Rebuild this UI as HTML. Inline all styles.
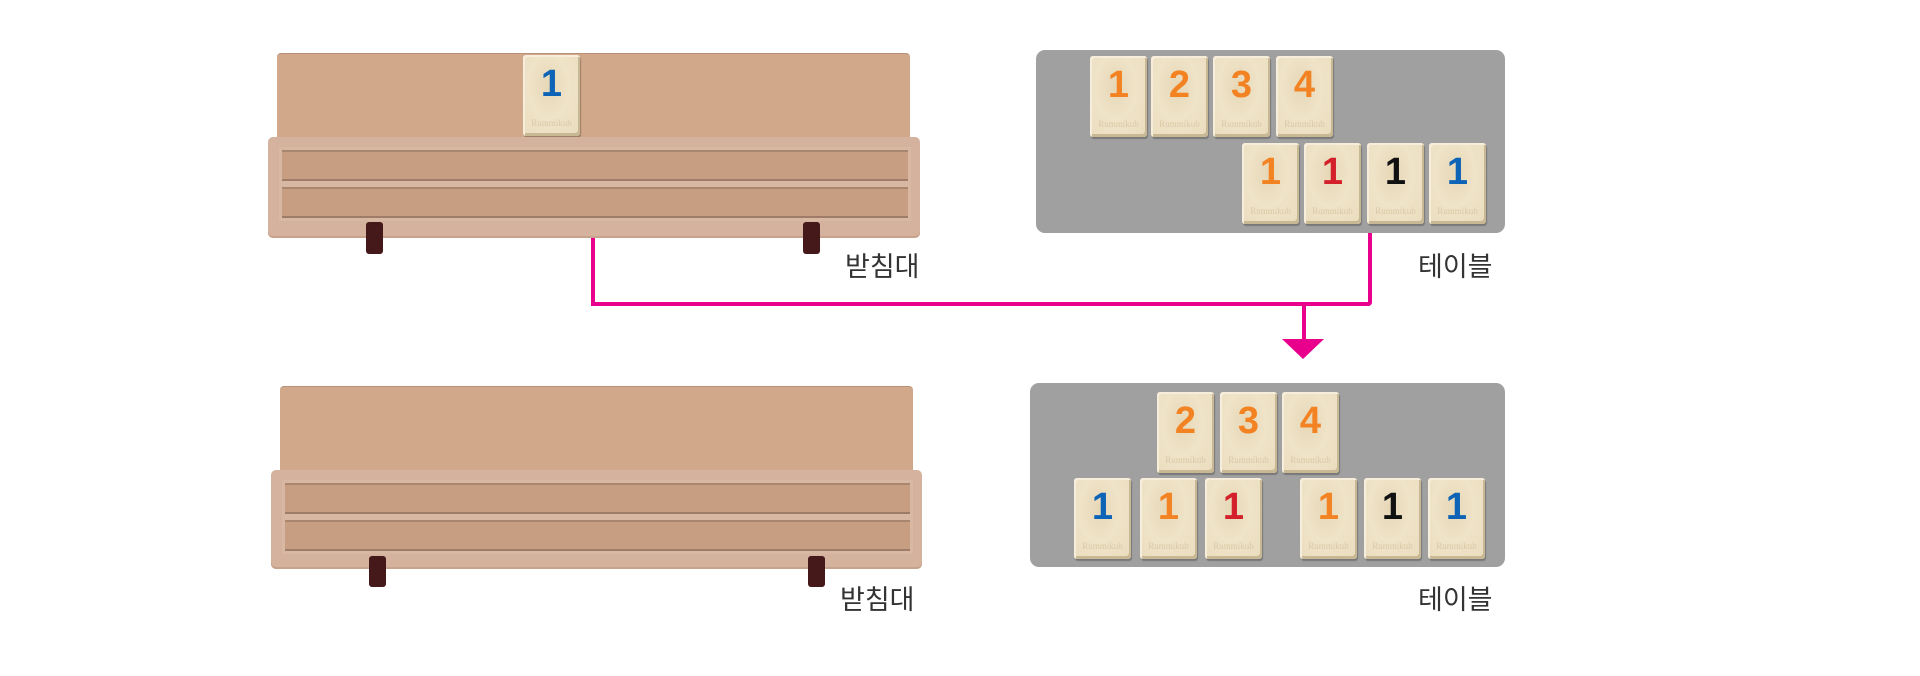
<!DOCTYPE html>
<html><head><meta charset="utf-8"><style>
body{margin:0;width:1920px;height:676px;background:#fff;position:relative;overflow:hidden;font-family:"Liberation Sans","Noto Sans CJK KR",sans-serif}
.a{position:absolute}
.back{background:#d2a88a;border-radius:4px 4px 0 0;border-top:1px solid #b89078}
.front{background:#d4b29d;border-radius:5px;box-shadow:inset 0 -2px 0 #c7a38c}
.groove{position:absolute;background:#c89e83;border-top:2px solid #a98670;border-bottom:2px solid #9e7c68;box-shadow:0 0 0 3px #d8b8a3}
.leg{position:absolute;background:#45181a;border-radius:3px}
.tbl{background:#a0a0a0;border-radius:9px}
.t{position:absolute;width:57px;height:81px;background:radial-gradient(ellipse at 45% 38%,#e6d7b6 0,#efe3c8 45%,#eadcbd 100%);border-radius:3px;box-shadow:inset 2px 2px 0 #f6eedb,inset -2px -3px 0 #c9b894,1px 2px 1px rgba(0,0,0,.25);text-align:center;font-weight:bold;font-size:38px;line-height:58px}
.t:after{content:"Rummikub";position:absolute;left:0;right:0;bottom:8px;font-size:9px;line-height:10px;color:#d9c9a6;font-weight:normal;font-family:"Liberation Serif",serif}
.o{color:#f28222}.b{color:#0d63b5}.r{color:#d3202a}.k{color:#111}
.lbl{position:absolute;font-size:27px;color:#333;line-height:30px}
.pk{position:absolute;background:#e8008c}
</style></head><body>
<!-- top rack -->
<div class="a back" style="left:277px;top:53px;width:633px;height:84px"></div>
<div class="t b" style="left:523px;top:55px;width:57px;height:81px">1</div>
<div class="a front" style="left:268px;top:137px;width:652px;height:101px"></div>
<div class="groove" style="left:282px;top:150px;width:626px;height:27px"></div>
<div class="groove" style="left:282px;top:187px;width:626px;height:27px"></div>
<div class="leg" style="left:366px;top:222px;width:17px;height:32px"></div>
<div class="leg" style="left:803px;top:222px;width:17px;height:32px"></div>
<div class="lbl" style="left:845px;top:252px">받침대</div>
<!-- top table -->
<div class="a tbl" style="left:1036px;top:50px;width:469px;height:183px"></div>
<div class="t o" style="left:1090px;top:56px">1</div>
<div class="t o" style="left:1151px;top:56px">2</div>
<div class="t o" style="left:1213px;top:56px">3</div>
<div class="t o" style="left:1276px;top:56px">4</div>
<div class="t o" style="left:1242px;top:143px">1</div>
<div class="t r" style="left:1304px;top:143px">1</div>
<div class="t k" style="left:1367px;top:143px">1</div>
<div class="t b" style="left:1429px;top:143px">1</div>
<div class="lbl" style="left:1418px;top:252px">테이블</div>
<!-- connector -->
<div class="pk" style="left:591px;top:238px;width:4px;height:68px"></div>
<div class="pk" style="left:591px;top:302px;width:781px;height:4px;border-radius:0 0 4px 4px"></div>
<div class="pk" style="left:1368px;top:233px;width:4px;height:73px;border-radius:0 0 4px 0"></div>
<div class="pk" style="left:1302px;top:304px;width:4px;height:38px"></div>
<div class="a" style="left:1282px;top:339px;width:0;height:0;border-left:21px solid transparent;border-right:21px solid transparent;border-top:20px solid #e8008c"></div>
<!-- bottom rack -->
<div class="a back" style="left:280px;top:386px;width:633px;height:84px"></div>
<div class="a front" style="left:271px;top:470px;width:651px;height:99px"></div>
<div class="groove" style="left:285px;top:483px;width:625px;height:27px"></div>
<div class="groove" style="left:285px;top:520px;width:625px;height:27px"></div>
<div class="leg" style="left:369px;top:556px;width:17px;height:31px"></div>
<div class="leg" style="left:808px;top:556px;width:17px;height:31px"></div>
<div class="lbl" style="left:840px;top:585px">받침대</div>
<!-- bottom table -->
<div class="a tbl" style="left:1030px;top:383px;width:475px;height:184px"></div>
<div class="t o" style="left:1157px;top:392px">2</div>
<div class="t o" style="left:1220px;top:392px">3</div>
<div class="t o" style="left:1282px;top:392px">4</div>
<div class="t b" style="left:1074px;top:478px">1</div>
<div class="t o" style="left:1140px;top:478px">1</div>
<div class="t r" style="left:1205px;top:478px">1</div>
<div class="t o" style="left:1300px;top:478px">1</div>
<div class="t k" style="left:1364px;top:478px">1</div>
<div class="t b" style="left:1428px;top:478px">1</div>
<div class="lbl" style="left:1418px;top:585px">테이블</div>
</body></html>
